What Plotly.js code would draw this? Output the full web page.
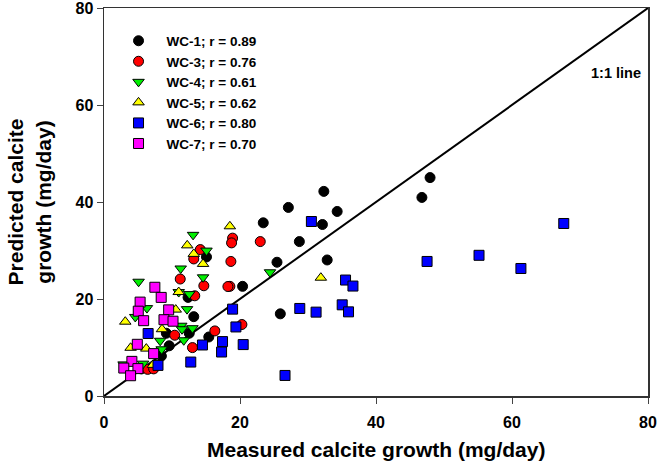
<!DOCTYPE html>
<html>
<head>
<meta charset="utf-8">
<script src="https://cdn.plot.ly/plotly-3.0.1.min.js"></script>
<style>html,body{margin:0;padding:0;background:#fff;}#chart{width:657px;height:466px;}</style>
</head>
<body>
<div id="chart"></div>
<script>
// Series names
const seriesNames = ["WC-1; r = 0.89", "WC-3; r = 0.76", "WC-4; r = 0.61", "WC-5; r = 0.62", "WC-6; r = 0.80", "WC-7; r = 0.70"];

// WC-1
const wc1X = [47.95, 46.75, 32.33, 27.11, 23.42, 34.29, 32.12, 28.73, 25.44, 32.82, 20.38, 25.93, 15.07, 13.20, 12.36, 12.54, 9.17, 9.59, 8.44, 15.41];
const wc1Y = [45.03, 40.94, 42.19, 38.88, 35.71, 38.05, 35.36, 31.84, 27.58, 28.05, 22.61, 16.94, 28.67, 16.36, 20.33, 12.94, 12.94, 10.35, 8.24, 12.17];
// WC-3
const wc3X = [18.91, 18.76, 22.98, 18.66, 18.51, 20.28, 14.16, 13.20, 11.21, 14.68, 18.22, 13.35, 10.40, 16.30, 13.01, 5.49, 6.42, 7.30];
const wc3Y = [32.55, 31.57, 31.84, 27.74, 22.61, 14.74, 30.19, 28.26, 24.12, 22.73, 22.57, 20.66, 12.53, 13.42, 9.98, 5.59, 5.49, 5.59];
// WC-4
const wc4X = [24.41, 13.10, 15.07, 11.28, 14.57, 5.09, 10.99, 12.54, 6.31, 12.21, 11.36, 11.47, 13.01, 8.26, 8.48, 5.75, 2.88, 11.73, 4.60];
const wc4Y = [25.51, 33.23, 29.98, 26.29, 24.47, 23.56, 21.43, 21.01, 18.12, 17.91, 14.49, 13.77, 13.98, 11.39, 9.63, 6.67, 6.52, 11.49, 16.30];
// WC-5
const wc5X = [31.89, 18.51, 12.24, 13.20, 14.57, 10.99, 3.13, 10.55, 8.53, 6.22, 3.91, 7.20];
const wc5Y = [24.39, 34.99, 31.06, 29.30, 27.23, 21.43, 15.32, 17.81, 13.77, 9.77, 9.94, 6.42];
// WC-6
const wc6X = [47.51, 55.15, 61.31, 67.61, 30.50, 35.52, 36.61, 28.79, 31.19, 35.03, 35.96, 18.91, 19.40, 20.47, 26.62, 17.43, 17.29, 14.48, 12.76, 6.49, 7.94];
const wc6Y = [27.74, 29.01, 26.29, 35.57, 35.98, 23.91, 22.67, 18.05, 17.29, 18.80, 17.35, 17.91, 14.24, 10.60, 4.24, 11.22, 9.07, 10.52, 7.00, 12.88, 6.31];
// WC-7
const wc7X = [7.48, 8.41, 5.31, 5.04, 5.83, 9.51, 8.82, 10.15, 4.90, 7.30, 4.10, 2.91, 4.99, 3.91];
const wc7Y = [22.42, 20.33, 19.36, 17.49, 15.53, 17.76, 15.73, 15.42, 10.66, 8.74, 7.14, 5.76, 5.65, 4.18];

// 1:1 line
const lineX = [0, 80];
const lineY = [0, 80];

const tickVals = [0, 20, 40, 60, 80];
const tickLabels = ["0", "20", "40", "60", "80"];

const FONT = "Liberation Sans, Arial, sans-serif";
const B = s => "<b>" + s + "</b>";

function series(x, y, name, symbol, color, size) {
  return {
    x: x, y: y, name: B(name), type: "scatter", mode: "markers",
    marker: {symbol: symbol, color: color, size: size, line: {color: "#000", width: 1}},
    hoverinfo: "x+y"
  };
}

const data = [
  {x: lineX, y: lineY, type: "scatter", mode: "lines", line: {color: "#000", width: 2}, showlegend: false, hoverinfo: "skip"},
  series(wc1X, wc1Y, seriesNames[0], "circle", "#000000", 10),
  series(wc3X, wc3Y, seriesNames[1], "circle", "#ff0000", 10),
  series(wc4X, wc4Y, seriesNames[2], "triangle-down", "#00ee00", 10),
  series(wc5X, wc5Y, seriesNames[3], "triangle-up", "#ffff00", 10),
  series(wc6X, wc6Y, seriesNames[4], "square", "#0000ff", 10),
  series(wc7X, wc7Y, seriesNames[5], "square", "#ff00ff", 10)
];

const axisCommon = {
  range: [0, 80], tickmode: "array", tickvals: tickVals, ticktext: tickLabels.map(B),
  ticks: "outside", ticklen: 6, tickwidth: 1,
  tickcolor: "#444", showline: true, linecolor: "#333", linewidth: 1.5, mirror: true,
  showgrid: false, zeroline: false, ticklabeloverflow: "allow",
  tickfont: {family: FONT, size: 16, weight: "bold", color: "#000"}
};

const layout = {
  width: 657, height: 466,
  margin: {l: 104, r: 9, t: 8, b: 70, pad: 0},
  paper_bgcolor: "#fff", plot_bgcolor: "#fff",
  font: {family: FONT, color: "#000"},
  showlegend: true,
  legend: {
    x: 0.012, y: 0.955, xanchor: "left", yanchor: "top",
    bgcolor: "rgba(0,0,0,0)", borderwidth: 0, tracegroupgap: 0, itemwidth: 46,
    font: {family: FONT, size: 13.5, color: "#000"}
  },
  xaxis: Object.assign({}, axisCommon, {ticklabelstandoff: 5}),
  yaxis: Object.assign({}, axisCommon, {ticklabelstandoff: 0}),
  annotations: [
    {x: 79.2, y: 66.6, xref: "x", yref: "y", text: B("1:1 line"), showarrow: false,
     xanchor: "right", yanchor: "middle", font: {family: FONT, size: 14.5, color: "#000"}},
    {x: 0.5, y: -0.139, xref: "paper", yref: "paper", text: B("Measured calcite growth (mg/day)"), showarrow: false,
     xanchor: "center", yanchor: "middle", font: {family: FONT, size: 21, color: "#000"}},
    {x: -0.137, y: 0.5, xref: "paper", yref: "paper", text: B("Predicted calcite<br>growth (mg/day)"), showarrow: false,
     textangle: -90, xanchor: "center", yanchor: "middle", font: {family: FONT, size: 21, color: "#000"}}
  ]
};

Plotly.newPlot("chart", data, layout, {displayModeBar: false, staticPlot: true});
</script>
</body>
</html>
